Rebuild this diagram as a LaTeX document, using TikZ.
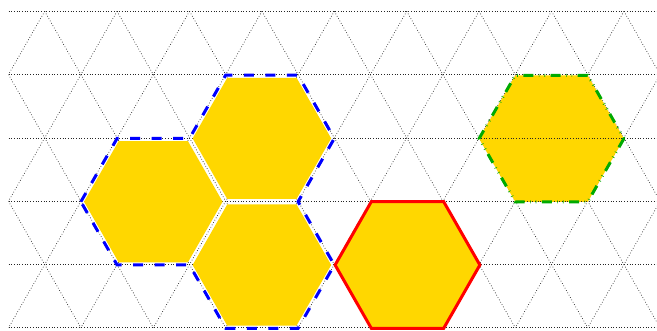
\documentclass[tikz,border=0pt]{standalone}
\definecolor{hexyellow}{RGB}{255,215,0}
\definecolor{hexgreen}{RGB}{0,170,0}
\definecolor{hexblue}{RGB}{0,0,255}
\definecolor{hexred}{RGB}{255,0,0}
\begin{document}
\begin{tikzpicture}[x=1pt,y=-1pt,
  gridline/.style={dotted, line width=0.7pt, black!85},
  hexagon/.pic={\path[pic actions] (72.4,0) -- (36.2,63.3) -- (-36.2,63.3) -- (-72.4,0) -- (-36.2,-63.3) -- (36.2,-63.3) -- cycle;},
  innerfill/.style={fill=hexyellow, scale=0.957},
  greenedge/.style={draw=hexgreen, line width=3pt, dash pattern=on 10pt off 5.5pt on 0.6pt off 5pt on 0.6pt off 5.5pt},
  blueedge/.style={draw=hexblue, line width=3pt, dash pattern=on 10pt off 11.5pt, line join=miter},
  rededge/.style={fill=hexyellow, draw=hexred, line width=3pt, line join=miter}]
\useasboundingbox (0,0) rectangle (657,331);
% diagonal grid lines
\begin{scope}
  \clip (8.5,11.3) rectangle (660,327.8);
  \foreach \k in {-3,...,9}
    \draw[gridline] ({44.7+72.4*\k},11.3) -- ({44.7+72.4*\k+181},327.8);
  \foreach \k in {0,...,12}
    \draw[gridline] ({44.7+72.4*\k},11.3) -- ({44.7+72.4*\k-181},327.8);
\end{scope}
% green hexagon fill (under horizontal lines)
\pic[fill=hexyellow] at (551.5,138.6) {hexagon};
% horizontal grid lines
\foreach \j in {0,...,5}
  \draw[gridline] (8.5,{11.3+63.3*\j}) -- (657,{11.3+63.3*\j});
% green hexagon outline
\pic[greenedge] at (551.5,138.6) {hexagon};
% blue cluster
\pic[innerfill] at (153.3,201.7) {hexagon};
\pic[innerfill] at (261.9,138.4) {hexagon};
\pic[innerfill] at (261.9,265.0) {hexagon};
\draw[blueedge] (80.9,201.7) -- (117.1,138.4) -- (189.5,138.4) -- (225.7,75.1) -- (298.1,75.1) -- (334.3,138.4) -- (298.1,201.7) -- (334.3,265.0) -- (298.1,328.3) -- (225.7,328.3) -- (189.5,265.0) -- (117.1,265.0) -- cycle;
% red hexagon
\pic[rededge] at (407.5,265.0) {hexagon};
\end{tikzpicture}
\end{document}
